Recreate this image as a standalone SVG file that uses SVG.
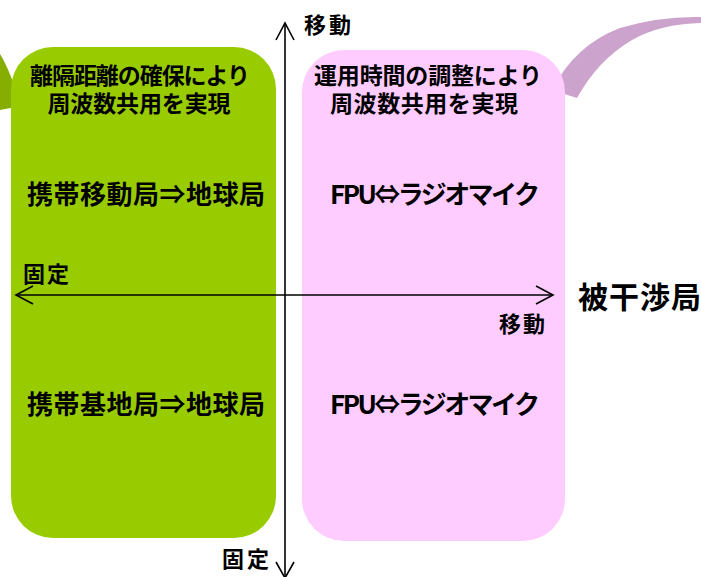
<svg xmlns="http://www.w3.org/2000/svg" width="701" height="577" viewBox="0 0 701 577">
<style>
.t{font-family:"Noto Sans CJK JP","Noto Sans",sans-serif;font-weight:bold;fill:#000}
.ax{stroke:#000;stroke-width:1.6;fill:none}
</style>
<rect width="701" height="577" fill="#fff"/>
<g id="deco">
<path d="M0,54 Q10,70 21,106 L0,110 Z" fill="#86AE00"/>
<path d="M552,90 Q575,45 620,28 Q660,16 701,17 L701,23 Q660,24 632,40 Q598,60 577,98 Z" fill="#CCA3CC"/>
</g>
<g id="fixed-box">
<rect x="11" y="47" width="265" height="491" rx="42" fill="#99CC00"/>
<text class="t" x="140" y="84" font-size="23" text-anchor="middle" textLength="220">離隔距離の確保により</text>
<text class="t" x="139" y="112" font-size="23" text-anchor="middle" textLength="183">周波数共用を実現</text>
<text class="t" x="146" y="204" font-size="26" text-anchor="middle" textLength="238">携帯移動局⇒地球局</text>
<text class="t" x="146" y="414" font-size="26" text-anchor="middle" textLength="238">携帯基地局⇒地球局</text>
</g>
<g id="mobile-box">
<rect x="302" y="50" width="263" height="491" rx="42" fill="#FFCCFF"/>
<text class="t" x="428" y="84" font-size="23" text-anchor="middle" textLength="228">運用時間の調整により</text>
<text class="t" x="424" y="112" font-size="23" text-anchor="middle" textLength="188">周波数共用を実現</text>
<text class="t" x="435" y="204" font-size="26" text-anchor="middle" textLength="210">FPU⇔ラジオマイク</text>
<text class="t" x="435" y="414" font-size="26" text-anchor="middle" textLength="210">FPU⇔ラジオマイク</text>
</g>
<g id="connectors">
<line class="ax" x1="285" y1="23" x2="285" y2="577"/>
<polyline class="ax" points="276,40 285,23 294,40"/>
<polyline class="ax" points="276,562 285,578 294,562"/>
<line class="ax" x1="16" y1="295" x2="553" y2="295"/>
<polyline class="ax" points="33,286 16,295 33,304"/>
<polyline class="ax" points="536,286 553,295 536,304"/>
</g>
<g id="labels">
<text class="t" x="304" y="33" font-size="22" textLength="47">移動</text>
<text class="t" x="23" y="282" font-size="22" textLength="46">固定</text>
<text class="t" x="499" y="332" font-size="22" textLength="46">移動</text>
<text class="t" x="222" y="567" font-size="22" textLength="47">固定</text>
<text class="t" x="578" y="308" font-size="30" textLength="123">被干渉局</text>
</g>
</svg>
